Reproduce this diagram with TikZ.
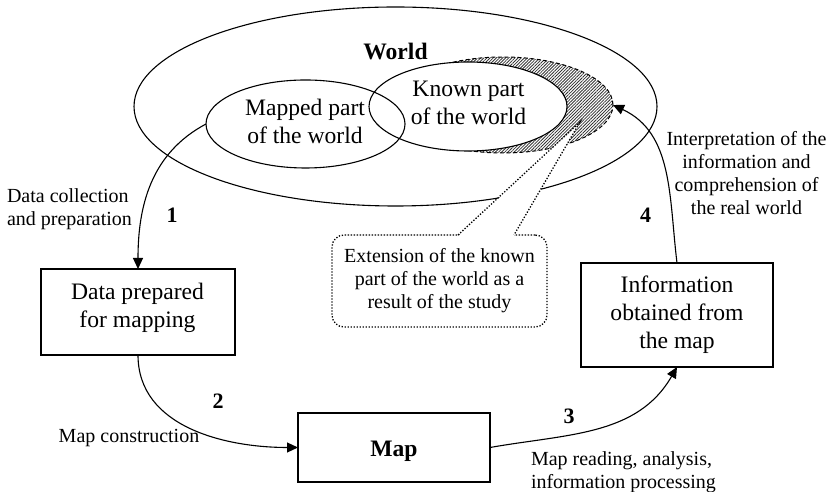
\documentclass[tikz,border=0pt]{standalone}
\usepackage{fontspec}
\setmainfont{Liberation Serif}
\usetikzlibrary{shapes.geometric,arrows.meta,patterns.meta,calc}
\begin{document}
\begin{tikzpicture}[x=1pt,y=1pt,
  every node/.style={inner sep=0pt,outer sep=0pt},
  region/.style={ellipse,draw,line width=1.1pt},
  bigtxt/.style={font=\fontsize{23.6}{28}\selectfont,align=center},
  bigbold/.style={font=\fontsize{23.6}{28}\selectfont\bfseries},
  smalltxt/.style={font=\fontsize{20}{23}\selectfont},
  steplabel/.style={font=\fontsize{22}{26}\selectfont\bfseries},
  boxnode/.style={draw,rectangle,line width=1.1pt},
  flow/.style={line width=1.1pt,-{Triangle[length=11pt,width=10pt]}},
  dotline/.style={line width=1.3pt,dash pattern=on 1.3pt off 1.7pt},
  notebox/.style={rectangle,rounded corners=12pt,draw,dotline,fill=white,
    font=\fontsize{20}{23}\selectfont,align=center},
  hatcharea/.style={ellipse,draw,line width=1pt,dash pattern=on 4pt off 2.5pt,
    pattern={Lines[angle=45,distance=2.2pt,line width=0.8pt]},pattern color=black!80}
]
\useasboundingbox (0,0) rectangle (829,492);
\fill[white] (0,0) rectangle (829,492);

% the world and its parts
\node[region,minimum width=523,minimum height=199] (world) at (395.5,385.5) {};
\node[bigbold,anchor=base] (worldlabel) at (395.5,432) {World};
\node[hatcharea,minimum width=220,minimum height=96] (newarea) at (503,387) {};
\node[ellipse,fill=white,minimum width=198,minimum height=89] (knownbg) at (468,385.5) {};
\node[region,minimum width=199,minimum height=88] (mapped) at (305.5,368) {};
\node[region,minimum width=198,minimum height=89] (known) at (468,385.5) {};
\node[bigtxt] (mappedtext) at (305,371) {Mapped part\\of the world};
\node[bigtxt] (knowntext) at (468.5,388.8) {Known part\\of the world};

% boxes of the cycle
\node[boxnode,minimum width=194,minimum height=86] (data) at (138,180) {};
\node[bigtxt] (datatext) at (137.5,184.5) {Data prepared\\for mapping};
\node[boxnode,minimum width=192,minimum height=69] (map) at (394,44.5) {};
\node[bigbold,anchor=base] (maptext) at (394,35) {Map};
\node[boxnode,bigtxt,minimum width=192,minimum height=104] (info) at (677,177)
  {Information\\obtained from\\the map};

% callout with its pointer
\node[notebox,minimum width=215,minimum height=92] (note) at (439.5,211)
  {Extension of the known\\part of the world as a\\result of the study};
\coordinate (tip) at (580,370);
\fill[white] ($(note.north)+(18.5,-1.5)$) -- (tip) -- ($(note.north)+(74.5,-1.5)$) -- cycle;
\draw[dotline] ($(note.north)+(18.5,0)$) -- (tip) -- ($(note.north)+(74.5,0)$);

% connectors
\draw[flow] (mapped.west) to[out=208,in=90] (data.north);
\draw[flow] (data.south) to[out=-90,in=180] (map.west);
\draw[flow] (map.east) to[out=10,in=-120] (info.south);
\draw[flow] (info.north) to[out=97,in=-25] (newarea.east);

% connector labels
\node[smalltxt,align=left,anchor=west] (lab1) at (7,283.2) {Data collection\\and preparation};
\node[smalltxt,anchor=base] (lab2) at (129,49) {Map construction};
\node[smalltxt,align=left,anchor=west] (lab3) at (531,19.7) {Map reading, analysis,\\information processing};
\node[smalltxt,align=center] (lab4) at (746.5,319.3) {Interpretation of the\\information and\\comprehension of\\the real world};
\node[steplabel] (n1) at (172,277) {1};
\node[steplabel] (n2) at (218,90.5) {2};
\node[steplabel] (n3) at (569,76) {3};
\node[steplabel] (n4) at (645.5,276.5) {4};
\end{tikzpicture}
\end{document}
